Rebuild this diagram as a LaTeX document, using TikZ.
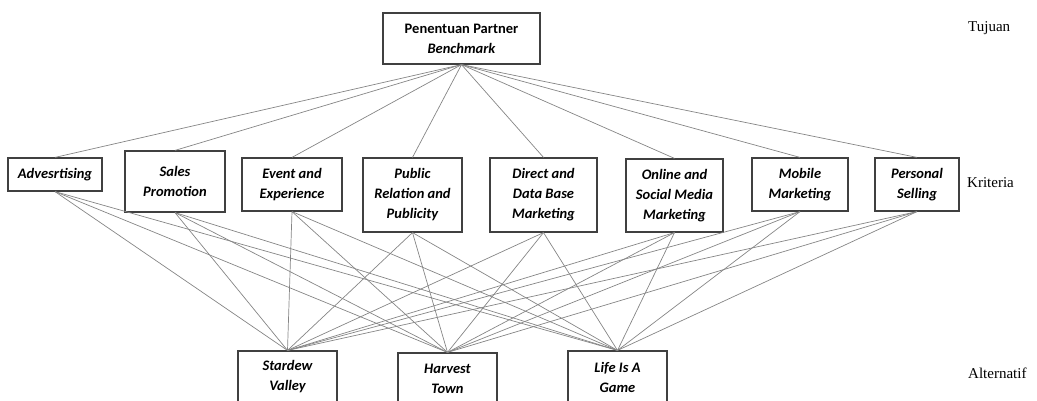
\documentclass[tikz,border=0pt]{standalone}
\usepackage{fontspec}
\setmainfont{Liberation Serif}
\newfontfamily\boxfont{Carlito}
\usepackage{xcolor}
\usetikzlibrary{positioning}

\definecolor{boxline}{HTML}{404040}
\definecolor{linkline}{HTML}{858585}

\begin{document}
\begin{tikzpicture}[x=1pt, y=-1pt,
  every node/.style={inner sep=0pt},
  box/.style={draw=boxline, line width=1.2pt, align=center,
    font=\boxfont\bfseries\itshape\fontsize{14.5}{20}\selectfont},
  link/.style={draw=linkline, line width=0.7pt},
  level/.style={anchor=west, font=\fontsize{15}{18}\selectfont}]
\clip (0,0) rectangle (1037,400);

% ============= TOP: goal =============
\node[box, minimum width=157pt, minimum height=51pt] (goal) at (461.5,38.5)
  {\upshape Penentuan Partner\\ Benchmark};

% ============= MIDDLE: criteria =============
\node[box, minimum width=94pt,  minimum height=33pt] (adv)  at (55,174.5)   {Advesrtising};
\node[box, minimum width=100pt, minimum height=61pt] (sales) at (175,181.5) {Sales\\ Promotion};
\node[box, minimum width=100pt, minimum height=53pt] (event) at (292,184.5) {Event and\\ Experience};
\node[box, minimum width=99pt,  minimum height=74pt] (pr)    at (412.5,195) {Public\\ Relation and\\ Publicity};
\node[box, minimum width=107pt, minimum height=74pt] (direct) at (543.5,195) {Direct and\\ Data Base\\ Marketing};
\node[box, minimum width=97pt,  minimum height=73pt] (online) at (674.5,195.5) {Online and\\ Social Media\\ Marketing};
\node[box, minimum width=96pt,  minimum height=53pt] (mobile) at (800,184.5) {Mobile\\ Marketing};
\node[box, minimum width=84pt,  minimum height=53pt] (personal) at (917,184.5) {Personal\\ Selling};

% ============= BOTTOM: alternatives (cut by the page edge) =============
\node[box, minimum width=99pt, minimum height=52pt] (stardew) at (287.5,377) {Stardew\\ Valley};
\node[box, minimum width=99pt, minimum height=52pt] (harvest) at (447.5,379) {Harvest\\ Town};
\node[box, minimum width=99pt, minimum height=52pt] (life)    at (617.5,377) {Life Is A\\ Game};

% --- level labels on the right ---
\node[level] (tujuan)  at (968,28)  {Tujuan};
\node[level] (kriteria) at (967,183) {Kriteria};
\node[level] (alternatif) at (968,373) {Alternatif};

% ============= connectors =============
\foreach \c in {adv,sales,event,pr,direct,online,mobile,personal} {
  \draw[link] (goal.south) -- (\c.north);
  \foreach \a in {stardew,harvest,life}
    \draw[link] (\c.south) -- (\a.north);
}
\end{tikzpicture}
\end{document}
